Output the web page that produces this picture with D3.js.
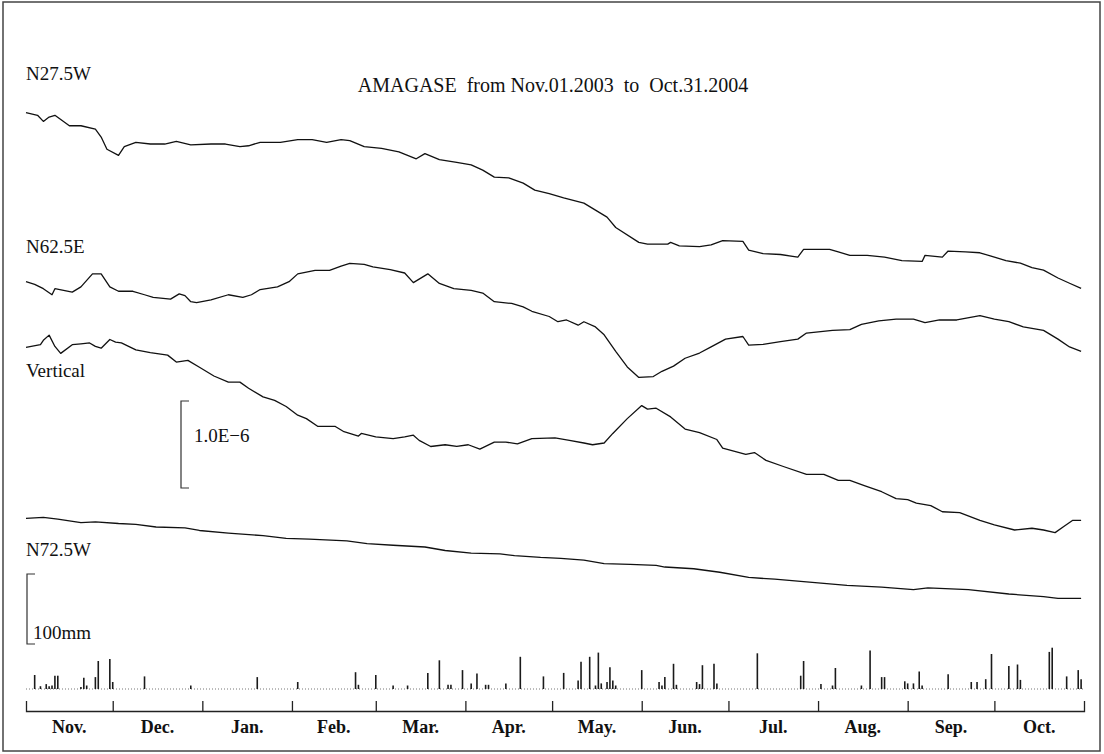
<!DOCTYPE html>
<html>
<head>
<meta charset="utf-8">
<script src="https://cdn.jsdelivr.net/npm/d3@7"></script>
<style>
  html, body { margin: 0; padding: 0; background: #fff; }
  svg { display: block; }
</style>
</head>
<body>
<svg id="chart" width="1104" height="754"></svg>
<script>
// ---- data (days counted from Nov.01.2003, strain in 1.0E-6, rain in mm) ----
const monthNames = ["Nov.", "Dec.", "Jan.", "Feb.", "Mar.", "Apr.", "May.", "Jun.", "Jul.", "Aug.", "Sep.", "Oct."];
const monthStarts = [0, 30, 61, 92, 121, 152, 182, 213, 243, 274, 305, 335, 366];

const n275wDays = [0,4,6,8,10,15,19,24,26,28,32,34,38,43,48,52,57,64,69,74,77,81,88,94,99,104,109,112,117,123,129,135,138,143,149,154,158,162,167,172,176,181,186,193,197,201,204,212,215,222,223,226,233,237,241,248,250,255,261,267,269,278,281,285,291,297,303,310,311,317,319,325,330,335,339,344,348,352,357,361,365];
const n275wVals = [0,-0.03,-0.10,-0.05,-0.03,-0.15,-0.15,-0.19,-0.28,-0.42,-0.49,-0.39,-0.34,-0.36,-0.36,-0.33,-0.37,-0.36,-0.36,-0.39,-0.38,-0.34,-0.34,-0.31,-0.31,-0.34,-0.31,-0.32,-0.39,-0.41,-0.45,-0.53,-0.47,-0.54,-0.57,-0.60,-0.66,-0.74,-0.75,-0.81,-0.89,-0.93,-0.98,-1.04,-1.12,-1.20,-1.32,-1.49,-1.51,-1.51,-1.49,-1.53,-1.54,-1.52,-1.47,-1.48,-1.58,-1.62,-1.63,-1.66,-1.57,-1.57,-1.60,-1.64,-1.64,-1.66,-1.70,-1.71,-1.64,-1.66,-1.59,-1.60,-1.61,-1.66,-1.70,-1.73,-1.78,-1.81,-1.90,-1.96,-2.02];

const n625eDays = [0,3,6,9,10,13,16,19,23,26,29,32,37,41,44,50,53,55,57,59,64,70,75,78,81,87,91,94,100,105,109,112,117,120,126,131,134,139,143,148,154,158,162,168,172,175,181,184,187,191,193,197,200,204,208,212,217,220,224,228,233,237,242,248,250,255,261,267,270,279,285,289,295,301,307,311,316,322,330,335,340,345,352,357,361,365];
const n625eVals = [0,-0.03,-0.08,-0.15,-0.08,-0.10,-0.12,-0.06,0.09,0.09,-0.06,-0.11,-0.11,-0.15,-0.18,-0.20,-0.14,-0.16,-0.23,-0.24,-0.21,-0.15,-0.18,-0.15,-0.09,-0.06,0,0.09,0.13,0.13,0.18,0.21,0.20,0.17,0.14,0.10,-0.01,0.09,-0.02,-0.08,-0.10,-0.13,-0.23,-0.25,-0.29,-0.34,-0.40,-0.46,-0.44,-0.50,-0.46,-0.52,-0.61,-0.80,-0.98,-1.10,-1.09,-1.03,-0.97,-0.88,-0.82,-0.75,-0.66,-0.63,-0.73,-0.72,-0.69,-0.66,-0.59,-0.56,-0.55,-0.49,-0.45,-0.43,-0.43,-0.47,-0.44,-0.44,-0.39,-0.43,-0.46,-0.52,-0.56,-0.66,-0.75,-0.80];

const vertDays = [0,5,6,8,10,12,16,19,22,24,26,29,31,33,38,43,49,52,56,60,65,70,74,77,82,86,90,94,97,101,107,110,115,116,121,127,131,134,136,140,145,149,153,157,162,166,170,175,183,188,193,196,200,203,208,213,215,218,223,228,233,239,241,249,252,256,262,270,276,281,285,290,296,301,305,308,313,317,323,330,335,342,348,352,356,359,362,365];
const vertVals = [0,0.03,0.08,0.14,0.01,-0.07,0.03,0.04,0.05,0.01,-0.01,0.09,0.06,0.05,-0.03,-0.06,-0.09,-0.17,-0.15,-0.23,-0.33,-0.40,-0.40,-0.47,-0.57,-0.61,-0.68,-0.78,-0.82,-0.91,-0.91,-0.97,-1.02,-0.99,-1.03,-1.05,-1.03,-1.01,-1.07,-1.14,-1.12,-1.14,-1.12,-1.17,-1.09,-1.09,-1.11,-1.05,-1.04,-1.07,-1.10,-1.12,-1.10,-0.99,-0.82,-0.67,-0.71,-0.70,-0.80,-0.94,-0.98,-1.06,-1.16,-1.23,-1.21,-1.30,-1.37,-1.46,-1.46,-1.53,-1.53,-1.59,-1.66,-1.74,-1.75,-1.79,-1.82,-1.89,-1.90,-1.99,-2.04,-2.10,-2.08,-2.10,-2.13,-2.06,-1.99,-1.99];

const n725wDays = [0,6,11,19,24,32,38,45,55,60,70,82,90,98,111,118,127,138,145,154,164,169,178,185,193,200,209,218,221,231,240,250,259,270,284,296,307,312,326,340,352,357,365];
const n725wVals = [0,0.01,-0.01,-0.05,-0.04,-0.06,-0.07,-0.10,-0.11,-0.14,-0.17,-0.20,-0.23,-0.24,-0.26,-0.29,-0.31,-0.33,-0.37,-0.40,-0.41,-0.43,-0.45,-0.46,-0.48,-0.52,-0.53,-0.54,-0.56,-0.58,-0.62,-0.68,-0.70,-0.73,-0.77,-0.79,-0.82,-0.80,-0.82,-0.87,-0.90,-0.92,-0.92];

const rainDays = [3,5,7,8,9,10,11,19,20,21,24,25,29,30,41,57,80,94,114,115,121,127,132,139,143,146,147,151,154,156,159,160,166,171,179,186,191,192,195,197,198,199,201,202,203,204,213,219,220,221,224,225,232,233,234,238,239,253,268,269,275,279,280,289,292,296,297,304,305,307,309,310,319,327,329,332,334,340,343,344,354,355,360,364,365];
const rainMm = [20,4,7,4,5,19,19,3,16,5,17,40,43,10,18,5,17,10,24,6,20,5,5,23,41,6,6,27,8,22,6,6,8,46,18,23,12,39,46,5,52,8,10,31,12,5,27,10,5,17,36,6,10,7,34,36,8,51,19,40,7,5,30,5,55,17,17,11,8,8,25,5,21,10,10,14,50,33,35,13,53,59,18,27,14];

const traces = [
  { name: "N27.5W", days: n275wDays, vals: n275wVals },
  { name: "N62.5E", days: n625eDays, vals: n625eVals },
  { name: "Vertical", days: vertDays, vals: vertVals },
  { name: "N72.5W", days: n725wDays, vals: n725wVals }
];

// ---- layout ----
const FONT = "'Liberation Serif', 'Times New Roman', 'DejaVu Serif', serif";
const svg = d3.select("#chart");
const traceBase = [112.7, 281.7, 347.3, 518.3];   // y where each trace starts
const labelY = [80, 253, 377, 556];
const rainBase = 689;
const axisY = 711;

const x = d3.scaleLinear().domain([0, 366]).range([26, 1084]);
const strain = d3.scaleLinear().domain([0, 1]).range([0, -87]);   // 1.0E-6 per 87px
const rain = d3.scaleLinear().domain([0, 100]).range([0, 70]);

const addText = (px, py, str, size, opts = {}) =>
  svg.append("text")
    .attr("x", px).attr("y", py)
    .attr("font-family", FONT)
    .attr("font-size", size)
    .attr("font-weight", opts.bold ? "bold" : "normal")
    .attr("text-anchor", opts.anchor || "start")
    .attr("fill", "#111")
    .attr("xml:space", "preserve")
    .text(str);

// frame
svg.append("rect")
  .attr("x", 3).attr("y", 2).attr("width", 1097).attr("height", 749)
  .attr("fill", "none").attr("stroke", "#444").attr("stroke-width", 1.5);

// title
addText(553, 92, "AMAGASE  from Nov.01.2003  to  Oct.31.2004", 20, { anchor: "middle" });

// strain traces
traces.forEach((t, i) => {
  const line = d3.line()
    .x(d => x(d[0]))
    .y(d => traceBase[i] + strain(d[1]));
  svg.append("path")
    .datum(t.days.map((d, j) => [d, t.vals[j]]))
    .attr("d", line)
    .attr("fill", "none")
    .attr("stroke", "#111")
    .attr("stroke-width", 1.3)
    .attr("stroke-linejoin", "round");
  addText(26, labelY[i], t.name, 19);
});

// strain scale bar
const sb = { x: 181, top: 401 };
svg.append("path")
  .attr("d", `M${sb.x + 8},${sb.top}H${sb.x}V${sb.top - strain(1)}H${sb.x + 8}`)
  .attr("fill", "none").attr("stroke", "#333").attr("stroke-width", 1.2);
addText(194, 442, "1.0E\u22126", 19);

// rain scale bar
const rb = { x: 27, top: 574 };
svg.append("path")
  .attr("d", `M${rb.x + 8},${rb.top}H${rb.x}V${rb.top + rain(100)}H${rb.x + 8}`)
  .attr("fill", "none").attr("stroke", "#333").attr("stroke-width", 1.2);
addText(33, 639, "100mm", 19);

// rain baseline (dotted days)
svg.append("line")
  .attr("x1", x(0)).attr("x2", x(366))
  .attr("y1", rainBase).attr("y2", rainBase)
  .attr("stroke", "#777").attr("stroke-width", 1)
  .attr("stroke-dasharray", "1,2");

// rain bars
svg.append("g")
  .selectAll("line")
  .data(rainDays.map((d, i) => ({ day: d, mm: rainMm[i] })))
  .join("line")
  .attr("x1", d => x(d.day)).attr("x2", d => x(d.day))
  .attr("y1", rainBase)
  .attr("y2", d => rainBase - rain(d.mm))
  .attr("stroke", "#1a1a1a")
  .attr("stroke-width", 1.6);

// month axis
const axis = d3.axisBottom(x)
  .tickValues(monthStarts.slice(1, -1))
  .tickSize(-10)
  .tickSizeOuter(-10)
  .tickFormat("");
const gAxis = svg.append("g")
  .attr("transform", `translate(0,${axisY})`)
  .call(axis);
gAxis.selectAll("path, line").attr("stroke", "#222").attr("stroke-width", 1.3);

monthNames.forEach((m, i) =>
  addText(x((monthStarts[i] + monthStarts[i + 1]) / 2), 733, m, 18, { anchor: "middle", bold: true }));
</script>
</body>
</html>
